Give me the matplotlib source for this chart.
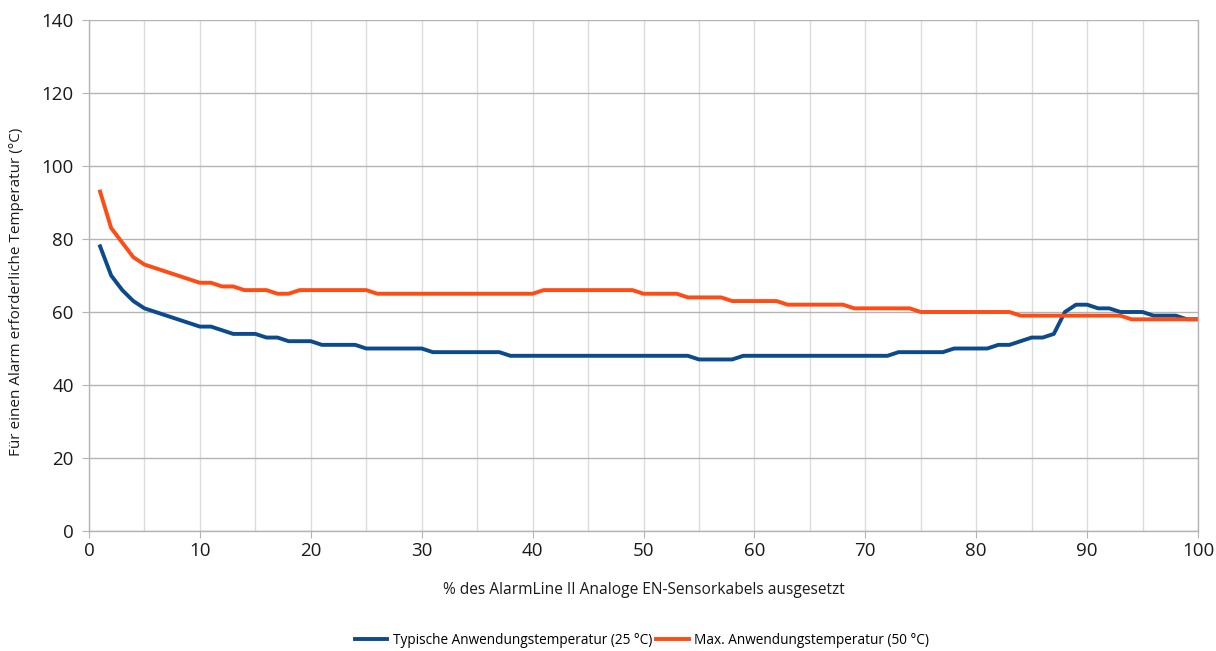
import matplotlib
matplotlib.use("Agg")
import matplotlib.pyplot as plt
from matplotlib.ticker import MultipleLocator

plt.rcParams['font.family'] = ['Open Sans', 'DejaVu Sans']

x_pct = list(range(1, 101))
typical_25 = [78, 70, 66, 63, 61, 60, 59, 58, 57, 56,
              56, 55, 54, 54, 54, 53, 53, 52, 52, 52,
              51, 51, 51, 51, 50, 50, 50, 50, 50, 50,
              49, 49, 49, 49, 49, 49, 49, 48, 48, 48,
              48, 48, 48, 48, 48, 48, 48, 48, 48, 48,
              48, 48, 48, 48, 47, 47, 47, 47, 48, 48,
              48, 48, 48, 48, 48, 48, 48, 48, 48, 48,
              48, 48, 49, 49, 49, 49, 49, 50, 50, 50,
              50, 51, 51, 52, 53, 53, 54, 60, 62, 62,
              61, 61, 60, 60, 60, 59, 59, 59, 58, 58]
max_50 = [93, 83, 79, 75, 73, 72, 71, 70, 69, 68,
          68, 67, 67, 66, 66, 66, 65, 65, 66, 66,
          66, 66, 66, 66, 66, 65, 65, 65, 65, 65,
          65, 65, 65, 65, 65, 65, 65, 65, 65, 65,
          66, 66, 66, 66, 66, 66, 66, 66, 66, 65,
          65, 65, 65, 64, 64, 64, 64, 63, 63, 63,
          63, 63, 62, 62, 62, 62, 62, 62, 61, 61,
          61, 61, 61, 61, 60, 60, 60, 60, 60, 60,
          60, 60, 60, 59, 59, 59, 59, 59, 59, 59,
          59, 59, 59, 58, 58, 58, 58, 58, 58, 58]

label_typ = "Typische Anwendungstemperatur (25 °C)"
label_max = "Max. Anwendungstemperatur (50 °C)"
xlabel = "% des AlarmLine II Analoge EN-Sensorkabels ausgesetzt"
ylabel = "Für einen Alarm erforderliche Temperatur (°C)"

fig = plt.figure(figsize=(12.16, 6.51), dpi=100)
ax = fig.add_axes([89/1216, 1-531/651, (1198-89)/1216, (531-20)/651])

ax.set_xlim(0, 100)
ax.set_ylim(0, 140)
ax.xaxis.set_major_locator(MultipleLocator(10))
ax.xaxis.set_minor_locator(MultipleLocator(5))
ax.yaxis.set_major_locator(MultipleLocator(20))

ax.grid(axis='x', which='both', color='#dcdcdc', linewidth=1)
ax.grid(axis='y', which='major', color='#b4b4b4', linewidth=1)
ax.set_axisbelow(True)

ax.spines['top'].set_visible(False)
for s in ['left', 'bottom', 'right']:
    ax.spines[s].set_color('#b4b4b4')
    ax.spines[s].set_linewidth(1)

ax.tick_params(axis='both', which='major', length=5, color='#b4b4b4', labelsize=13.5, labelcolor='#1a1a1a')
ax.tick_params(axis='x', which='minor', length=0)
ax.tick_params(axis='x', pad=3)
ax.tick_params(axis='y', pad=6)

ax.plot(x_pct, typical_25, color='#0b4a8b', linewidth=2.8, label=label_typ, solid_joinstyle='round')
ax.plot(x_pct, max_50, color='#ff4b14', linewidth=2.8, label=label_max, solid_joinstyle='round')

ax.set_xlabel(xlabel, fontsize=11.2, color='#1a1a1a', labelpad=16)
ax.set_ylabel(ylabel, fontsize=11, color='#1a1a1a')
ax.yaxis.set_label_coords(-0.0585, 0.468)

fig.legend(loc='center', bbox_to_anchor=(642/1216, 1-640/651), ncol=2, frameon=False,
           fontsize=9.8, handlelength=2.4, columnspacing=0.3, handletextpad=0.4)

fig.savefig("out.png", dpi=100)
